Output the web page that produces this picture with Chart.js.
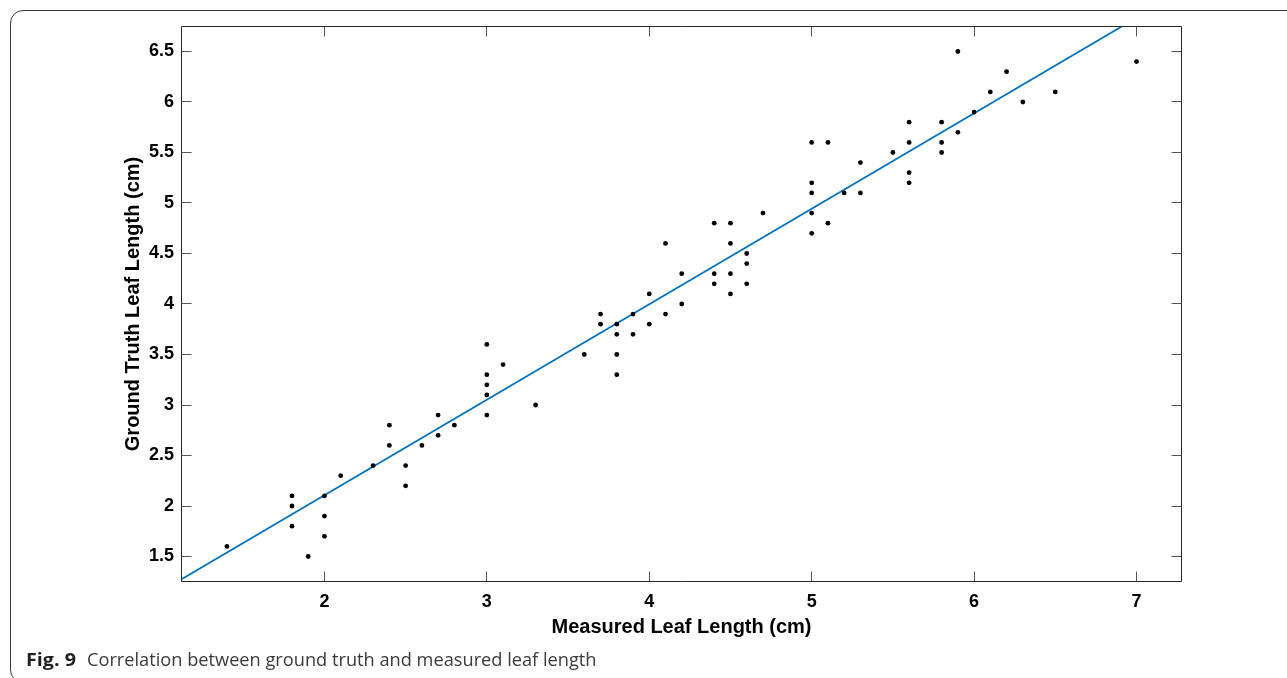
<!DOCTYPE html>
<html>
<head>
<meta charset="utf-8">
<script src="https://cdn.jsdelivr.net/npm/chart.js@4.4.1/dist/chart.umd.min.js"></script>
<style>
  html, body { margin: 0; padding: 0; background: #fff; width: 1287px; height: 678px; overflow: hidden; }
  #frame { position: absolute; left: 10px; top: 10px; width: 1300px; height: 673px; border: 1px solid #3a3a3a; border-radius: 13px; box-sizing: border-box; }
  #wrap { position: absolute; left: 0; top: 0; width: 1287px; height: 678px; }
  .cap { position: absolute; top: 649px; font-family: "Open Sans", sans-serif; font-size: 18.5px; line-height: 20px; white-space: nowrap; transform-origin: 0 0; }
  #fig { left: 26px; font-weight: 700; color: #231f20; }
  #txt { left: 87px; font-weight: 400; color: #3a3a3a; }
</style>
</head>
<body>
<div id="frame"></div>
<div id="wrap"><canvas id="c"></canvas></div>
<span class="cap" id="fig">Fig. 9</span>
<span class="cap" id="txt">Correlation between ground truth and measured leaf length</span>
<script>
// ---- data ----
const measuredLength = [
  1.4, 1.8, 1.8, 1.8, 1.9, 2.0, 2.0, 2.0, 2.1, 2.3, 2.4, 2.4,
  2.5, 2.5, 2.6, 2.7, 2.7, 2.8, 3.0, 3.0, 3.0, 3.0, 3.0, 3.1, 3.3,
  3.6, 3.7, 3.7, 3.8, 3.8, 3.8, 3.8, 3.9, 3.9, 4.0, 4.1, 4.2,
  4.0, 4.1, 4.2, 4.4, 4.4, 4.4, 4.5, 4.5, 4.5, 4.5, 4.6, 4.6, 4.6, 4.7,
  5.0, 5.0, 5.0, 5.0, 5.0, 5.1, 5.1, 5.2,
  5.3, 5.3, 5.5, 5.6, 5.6, 5.6, 5.6, 5.8, 5.8, 5.8, 5.9, 5.9, 6.0, 6.1, 6.2, 6.3, 6.5, 7.0
];
const groundTruthLength = [
  1.6, 2.1, 2.0, 1.8, 1.5, 2.1, 1.9, 1.7, 2.3, 2.4, 2.8, 2.6,
  2.4, 2.2, 2.6, 2.9, 2.7, 2.8, 3.6, 3.3, 3.2, 3.1, 2.9, 3.4, 3.0,
  3.5, 3.9, 3.8, 3.8, 3.7, 3.5, 3.3, 3.9, 3.7, 3.8, 3.9, 4.0,
  4.1, 4.6, 4.3, 4.8, 4.3, 4.2, 4.8, 4.6, 4.3, 4.1, 4.5, 4.4, 4.2, 4.9,
  5.6, 5.2, 5.1, 4.9, 4.7, 5.6, 4.8, 5.1,
  5.4, 5.1, 5.5, 5.8, 5.6, 5.3, 5.2, 5.8, 5.6, 5.5, 6.5, 5.7, 5.9, 6.1, 6.3, 6.0, 6.1, 6.4
];
const fitLineX = [1.12, 6.909];
const fitLineY = [1.274, 6.7475];
const xTicks = [2, 3, 4, 5, 6, 7];
const yTicks = [1.5, 2, 2.5, 3, 3.5, 4, 4.5, 5, 5.5, 6, 6.5];
const xRange = [1.12, 7.277];
const yRange = [1.2525, 6.7475];
const xTitle = 'Measured Leaf Length (cm)';
const yTitle = 'Ground Truth Leaf Length (cm)';

const tickFont = { family: '"Liberation Sans", Arial, sans-serif', size: 18, weight: 'bold' };
const titleFont = { family: '"Liberation Sans", Arial, sans-serif', size: 20, weight: 'bold' };

// box around plot area + inward ticks on all four sides
const frameTicks = {
  id: 'frameTicks',
  afterDatasetsDraw(chart) {
    const { ctx, chartArea: { left, right, top, bottom }, scales: { x, y } } = chart;
    const L = 10;
    ctx.save();
    ctx.strokeStyle = '#262626';
    ctx.lineWidth = 1;
    ctx.beginPath();
    ctx.rect(left, top, right - left, bottom - top);
    ctx.stroke();
    ctx.strokeStyle = '#555';
    ctx.beginPath();
    x.ticks.forEach(t => {
      const px = Math.round(x.getPixelForValue(t.value) - 0.5) + 0.5;
      ctx.moveTo(px, bottom); ctx.lineTo(px, bottom - L);
      ctx.moveTo(px, top); ctx.lineTo(px, top + L);
    });
    y.ticks.forEach(t => {
      const py = Math.round(y.getPixelForValue(t.value) - 0.5) + 0.5;
      ctx.moveTo(left, py); ctx.lineTo(left + L, py);
      ctx.moveTo(right, py); ctx.lineTo(right - L, py);
    });
    ctx.stroke();
    ctx.restore();
  }
};

new Chart(document.getElementById('c'), {
  type: 'scatter',
  data: {
    datasets: [
      {
        label: 'Samples',
        data: measuredLength.map((v, i) => ({ x: v, y: groundTruthLength[i] })),
        pointRadius: 2.4,
        pointHoverRadius: 2.4,
        backgroundColor: '#000',
        borderWidth: 0,
        showLine: false,
        order: 1
      },
      {
        label: 'Fit',
        data: fitLineX.map((v, i) => ({ x: v, y: fitLineY[i] })),
        showLine: true,
        pointRadius: 0,
        borderColor: '#0072BD',
        borderWidth: 1.8,
        fill: false,
        order: 2
      }
    ]
  },
  options: {
    responsive: true,
    maintainAspectRatio: false,
    animation: false,
    events: [],
    layout: { padding: { left: 0, top: 26.5, right: 105.5, bottom: 0 } },
    plugins: { legend: { display: false }, tooltip: { enabled: false } },
    scales: {
      x: {
        type: 'linear',
        min: xRange[0],
        max: xRange[1],
        afterBuildTicks: s => { s.ticks = xTicks.map(v => ({ value: v })); },
        afterFit: s => { s.height = 96.5; },
        grid: { display: false, drawTicks: false },
        border: { display: false },
        ticks: { font: tickFont, color: '#000', padding: 9.7, maxRotation: 0, autoSkip: false, callback: v => String(v) },
        title: { display: true, text: xTitle, font: titleFont, color: '#000', padding: { top: 0, bottom: 38.7 } }
      },
      y: {
        type: 'linear',
        min: yRange[0],
        max: yRange[1],
        afterBuildTicks: s => { s.ticks = yTicks.map(v => ({ value: v })); },
        afterFit: s => { s.width = 181.5; },
        grid: { display: false, drawTicks: false },
        border: { display: false },
        ticks: { font: tickFont, color: '#000', padding: 7.5, autoSkip: false, callback: v => String(v) },
        title: { display: true, text: yTitle, font: titleFont, color: '#000', padding: { top: 121.3, bottom: 0 } }
      }
    }
  },
  plugins: [frameTicks]
});

// fit caption widths to the reference
function fitCaption(id, target) {
  const el = document.getElementById(id);
  const w = el.getBoundingClientRect().width;
  if (w > 0) el.style.transform = 'scaleX(' + (target / w) + ')';
}
fitCaption('fig', 50);
fitCaption('txt', 509.5);
</script>
</body>
</html>
